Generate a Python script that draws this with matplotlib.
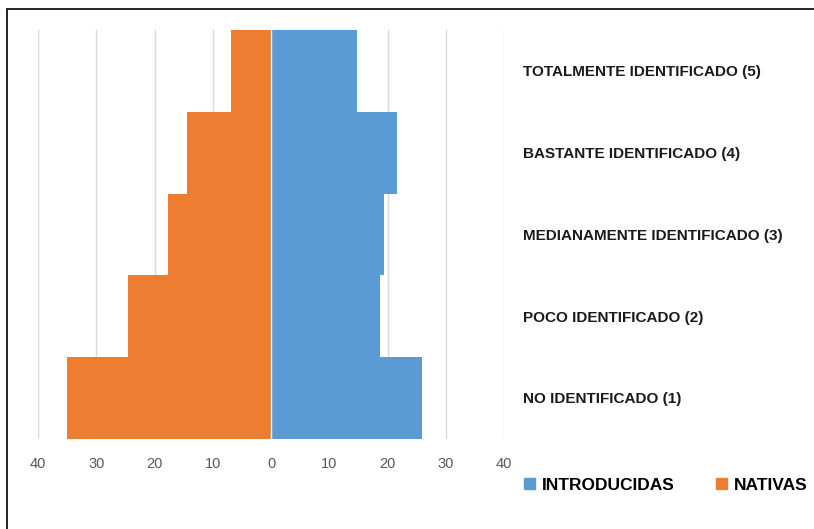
import matplotlib.pyplot as plt
from matplotlib.patches import Rectangle, Patch
from matplotlib.ticker import FuncFormatter

plt.rcParams['font.family'] = ['Liberation Sans', 'DejaVu Sans']

categorias = ['NO IDENTIFICADO (1)', 'POCO IDENTIFICADO (2)',
              'MEDIANAMENTE IDENTIFICADO (3)', 'BASTANTE IDENTIFICADO (4)',
              'TOTALMENTE IDENTIFICADO (5)']
introducidas = [26.0, 18.7, 19.4, 21.7, 14.7]
nativas = [35.0, 24.6, 17.7, 14.5, 6.9]

azul = '#5B9BD5'
naranja = '#ED7D31'

fig = plt.figure(figsize=(8.14, 5.29), dpi=100)
ax = fig.add_axes([0.0467, 0.171, 0.5725, 0.772])

pos = range(len(categorias))
ax.barh(pos, introducidas, height=1.0, color=azul, linewidth=0, zorder=3)
ax.barh(pos, [-v for v in nativas], height=1.0, color=naranja, linewidth=0, zorder=3)
ax.axvline(0, color='white', linewidth=1.0, zorder=4)

ax.set_xlim(-40, 40)
ax.set_ylim(-0.5, len(categorias) - 0.5)
ax.set_xticks(range(-40, 41, 10))
ax.xaxis.set_major_formatter(FuncFormatter(lambda v, p: f'{abs(int(v))}'))
ax.tick_params(axis='x', length=0, pad=13, labelsize=10.5, labelcolor='#595959')
ax.grid(axis='x', color='#d9d9d9', linewidth=1, zorder=0)

ax.yaxis.tick_right()
ax.set_yticks(list(pos))
ax.set_yticklabels(categorias, fontsize=11, fontweight='bold', color='#1a1a1a')
ax.tick_params(axis='y', length=0, pad=14)

for s in ax.spines.values():
    s.set_visible(False)

handles = [Patch(color=azul, label='INTRODUCIDAS'), Patch(color=naranja, label='NATIVAS')]
fig.legend(handles=handles, loc='center left', bbox_to_anchor=(0.625, 0.083), ncol=2,
           frameon=False, prop={'size': 12.5, 'weight': 'bold'},
           handlelength=0.6, handleheight=0.6, handletextpad=0.4, columnspacing=2.4)

# marco negro recortado
fig.patches.append(Rectangle((7 / 814, -0.1), 1.2, (529 - 9) / 529 + 0.1,
                             transform=fig.transFigure, fill=False,
                             edgecolor='black', linewidth=1.2))

fig.savefig('out.png', dpi=100)
